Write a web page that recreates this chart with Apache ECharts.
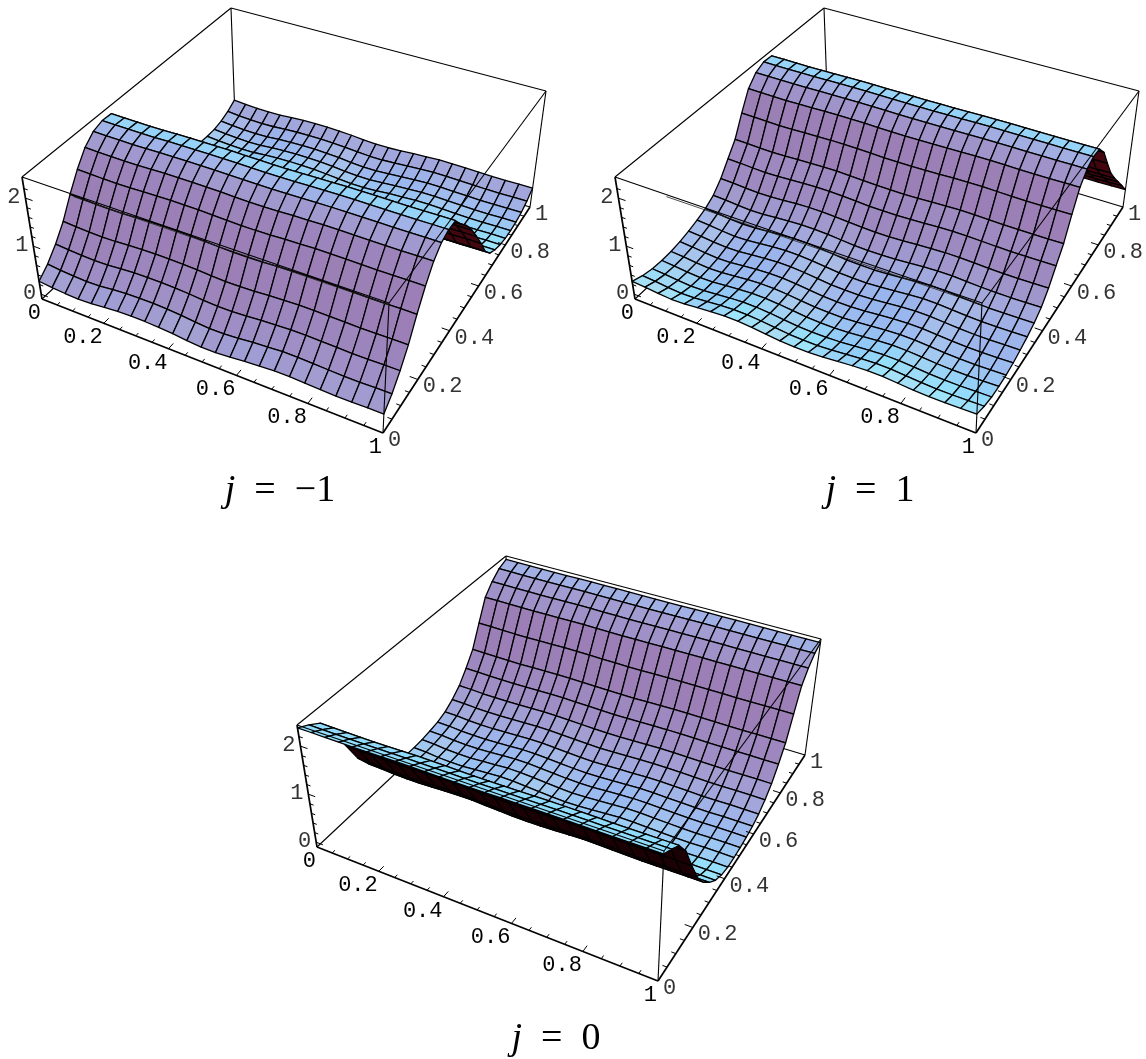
<!DOCTYPE html>
<html>
<head>
<meta charset="utf-8">
<style>html,body{margin:0;padding:0;background:#fff}#c{width:1146px;height:1059px}</style>
<script src="https://cdn.jsdelivr.net/npm/echarts@6/dist/echarts.min.js"></script>
</head>
<body>
<div id="c"></div>
<script>
// ---- values: z along y (25 nodes), x ripple, ripple strength along y
const profileMinus = [.25,.42,.66,.96,1.36,1.72,2.02,2.2,2.27,2.26,2.0,1.78,1.5,1.18,.85,.5,.28,.17,.1,.06,.05,.06,.1,.18,.3];
const profilePlus  = [.25,.18,.14,.13,.14,.17,.22,.28,.36,.48,.68,.95,1.22,1.64,2.03,2.24,2.33,2.32,2.08,1.68,1.3,1.02,.77,.52,.27];
const profileZero  = [2.38,2.26,2.12,1.8,1.3,.85,.55,.34,.18,.09,.05,.05,.06,.09,.13,.2,.32,.48,.72,1.0,1.45,1.9,2.12,2.28,2.36];
const rippleMinus  = [.02,-.01,-.03,-.04,-.03,0,.02,.03,.03,.02,0,-.03,-.05,-.05,-.03,0,.02,.04,.04,.03,.02,.01,.01,.02,.02];
const ripplePlus   = [.02,0,-.03,-.05,-.04,-.01,.02,.04,.04,.02,-.01,-.04,-.05,-.05,-.03,0,.03,.05,.05,.03,.01,0,0,.01,.02];
const rippleZero   = [.02,.01,-.02,-.03,-.03,-.01,.01,.03,.03,.01,-.01,-.03,-.04,-.03,-.01,.01,.03,.03,.02,.01,0,0,.01,.01,.01];
const strengthMinus= [1,1,.8,.6,.5,.4,.3,.2,.2,.2,.2,.3,.5,.6,.7,.8,.8,.8,.8,.8,.8,.8,.8,.7,.7];
const strengthPlus = [.9,.9,.9,.9,.9,.9,.9,.9,.8,.7,.6,.5,.4,.3,.2,.1,.1,.1,.1,.2,.3,.4,.5,.5,.5];
const strengthZero = [.1,.1,.2,.3,.4,.5,.6,.7,.8,.8,.9,.9,.9,.8,.7,.6,.5,.4,.3,.3,.2,.1,.1,.1,.1];
const xTickLabels = ['0','0.2','0.4','0.6','0.8','1'];
const xTickValues = [0,.2,.4,.6,.8,1];
const zTickLabels = ['0','1','2'];
const zTickValues = [0,1,2];
const panelTitles = ['\u2212' + '1', '1', '0'];

// ---- layout of the drawn box
const Z_MIN = -0.1, Z_MAX = 2.44, CELLS = 24;
const floorCorners = [[42,299],[383,433],[530,207],[235,118]];
const topCorners   = [[22,177],[389,303],[546,91],[231,8]];
const panelOffset  = [[0,0],[593,0],[275,548]];
const titleCenter  = [[280,491],[870,491],[556,1039]];
const undersideColor = ['#43070f','#43060f','#1c0104'];
const profiles  = [profileMinus, profilePlus, profileZero];
const ripples   = [rippleMinus, ripplePlus, rippleZero];
const strengths = [strengthMinus, strengthPlus, strengthZero];

function makeH(q){
  const [x0,y0]=q[0],[x1,y1]=q[1],[x2,y2]=q[2],[x3,y3]=q[3];
  const sx=x0-x1+x2-x3, sy=y0-y1+y2-y3, dx1=x1-x2, dx2=x3-x2, dy1=y1-y2, dy2=y3-y2;
  const det=dx1*dy2-dx2*dy1, g=(sx*dy2-dx2*sy)/det, h=(dx1*sy-sx*dy1)/det;
  const a=x1-x0+g*x1, b=x3-x0+h*x3, d=y1-y0+g*y1, e=y3-y0+h*y3;
  return (u,v)=>{const w=g*u+h*v+1;return [(a*u+b*v+x0)/w,(d*u+e*v+y0)/w];};
}
const floorH = makeH(floorCorners), topH = makeH(topCorners);
function project(p,u,v,z){
  const f=(z-Z_MIN)/(Z_MAX-Z_MIN), a=floorH(u,v), b=topH(u,v);
  return [a[0]+(b[0]-a[0])*f+panelOffset[p][0], a[1]+(b[1]-a[1])*f+panelOffset[p][1]];
}
const height=(p,ix,iy)=>profiles[p][iy]+strengths[p][iy]*ripples[p][ix];

// ---- shading: lit colour as a function of slope along y
const ramp=[[-3,[144,220,251]],[-1.8,[160,230,251]],[-.5,[142,220,251]],[0,[156,205,245]],[.5,[158,192,240]],[1,[157,184,238]],[1.5,[160,180,233]],[2.5,[163,170,222]],[4,[161,155,208]],[6,[158,140,195]],[8,[155,127,182]]];
function lit(sy,sx){
  let c=ramp[ramp.length-1][1];
  if(sy<=ramp[0][0]) c=ramp[0][1];
  else for(let i=1;i<ramp.length;i++){ if(sy<=ramp[i][0]){const a=ramp[i-1],b=ramp[i],t=(sy-a[0])/(b[0]-a[0]);c=a[1].map((k,n)=>k+(b[1][n]-k)*t);break;} }
  const amt=Math.min(1,Math.abs(sx))*(sy<2?.6:sy<5?.2:.08), tint=sx>0?[142,182,242]:[182,208,232];
  c=c.map((k,n)=>Math.round(k+(tint[n]-k)*amt));
  return 'rgb('+c.join(',')+')';
}

// ---- item lists
const quadData=[];
for(let p=0;p<3;p++) for(let iy=CELLS-1;iy>=0;iy--) for(let ix=0;ix<CELLS;ix++) quadData.push([p,ix,iy]);
const corner=[[0,0,0],[1,0,0],[1,1,0],[0,1,0],[0,0,1],[1,0,1],[1,1,1],[0,1,1]];
const backEdges=[[4,7],[7,6],[6,2],[7,3],[3,2],[0,3]], frontEdges=[[4,5],[5,6],[5,1]], axisEdges=[[0,4],[0,1],[1,2]];
const listFor=(e,w)=>{const r=[];for(let p=0;p<3;p++)e.forEach(s=>r.push([p,s[0],s[1],w]));return r;};
const cp=(p,k)=>{const c=corner[k];return project(p,c[0],c[1],c[2]?Z_MAX:Z_MIN);};

const tickData=[];
for(let p=0;p<3;p++){
  for(let k=1;k<20;k++){
    const maj=k%4===0?1:0;
    tickData.push([p,0,k/20,maj]); tickData.push([p,1,k/20,maj]);
  }
  for(let k=0;k<12;k++) tickData.push([p,2,k/5,k%5===0?1:0]);
}
const labelData=[];
for(let p=0;p<3;p++){
  xTickLabels.forEach((s,i)=>{labelData.push([p,0,i]);labelData.push([p,1,i]);});
  zTickLabels.forEach((s,i)=>labelData.push([p,2,i]));
}

function edgeItem(api){
  const p=api.value(0),a=api.coord(cp(p,api.value(1))),b=api.coord(cp(p,api.value(2)));
  return {type:'line',silent:true,shape:{x1:a[0],y1:a[1],x2:b[0],y2:b[1]},style:{stroke:'#000',lineWidth:api.value(3),fill:null}};
}
const edgeSeries=(data)=>({type:'custom',coordinateSystem:'cartesian2d',silent:true,clip:false,animation:false,encode:{x:1,y:2},data,renderItem:(q,api)=>edgeItem(api)});

const option={
  backgroundColor:'#fff',animation:false,
  grid:{left:0,right:0,top:0,bottom:0},
  xAxis:{type:'value',min:0,max:1146,show:false},
  yAxis:{type:'value',min:0,max:1059,inverse:true,show:false},
  series:[
    edgeSeries(listFor(backEdges,1.1)),
    {type:'custom',coordinateSystem:'cartesian2d',silent:true,clip:false,animation:false,progressive:0,encode:{x:1,y:2},data:quadData,
     renderItem(q,api){
       const p=api.value(0),ix=api.value(1),iy=api.value(2),n=CELLS;
       const z00=height(p,ix,iy),z10=height(p,ix+1,iy),z11=height(p,ix+1,iy+1),z01=height(p,ix,iy+1);
       const pts=[project(p,ix/n,iy/n,z00),project(p,(ix+1)/n,iy/n,z10),project(p,(ix+1)/n,(iy+1)/n,z11),project(p,ix/n,(iy+1)/n,z01)].map(t=>api.coord(t));
       let area=0;for(let i=0;i<4;i++){const a=pts[i],b=pts[(i+1)%4];area+=a[0]*b[1]-b[0]*a[1];}
       const sy=(z01+z11-z00-z10)/2*n, sx=(z10+z11-z00-z01)/2*n;
       return {type:'polygon',silent:true,shape:{points:pts},style:{fill:area>0?undersideColor[p]:lit(sy,sx),stroke:'#000',lineWidth:1.3,lineJoin:'round'}};
     }},
    edgeSeries(listFor(frontEdges,1.1)),
    {type:'custom',coordinateSystem:'cartesian2d',silent:true,clip:false,animation:false,encode:{x:0,y:0},data:[[0],[1]],
     renderItem(q,api){
       const p=api.value(0),e=cp(p,4),f=cp(p,5),st=[e[0]+(f[0]-e[0])*.14,e[1]+(f[1]-e[1])*.14];
       const a=api.coord([st[0],st[1]+2]),b=api.coord([f[0],f[1]+2]);
       return {type:'line',silent:true,shape:{x1:a[0],y1:a[1],x2:b[0],y2:b[1]},style:{stroke:'#222',lineWidth:.8}};
     }},
    edgeSeries(listFor(axisEdges,1.7)),
    {type:'custom',coordinateSystem:'cartesian2d',silent:true,clip:false,animation:false,encode:{x:1,y:2},data:tickData,
     renderItem(q,api){
       const p=api.value(0),ax=api.value(1),t=api.value(2),L=api.value(3)?.022:.012;
       let a,b;
       if(ax===0){a=project(p,t,0,Z_MIN);b=project(p,t,L,Z_MIN);}
       else if(ax===1){a=project(p,1,t,Z_MIN);b=project(p,1-L,t,Z_MIN);}
       else {a=project(p,0,0,t);b=project(p,L,0,t);}
       a=api.coord(a);b=api.coord(b);
       return {type:'line',silent:true,shape:{x1:a[0],y1:a[1],x2:b[0],y2:b[1]},style:{stroke:'#000',lineWidth:1}};
     }},
    {type:'custom',coordinateSystem:'cartesian2d',silent:true,clip:false,animation:false,encode:{x:1,y:2},data:labelData,
     renderItem(q,api){
       const p=api.value(0),ax=api.value(1),i=api.value(2);
       let a,text,align,dx,dy,fill;
       if(ax===0){a=project(p,xTickValues[i],0,Z_MIN);text=xTickLabels[i];align='right';dx=-1;dy=14;fill='#000';}
       else if(ax===1){a=project(p,1,xTickValues[i],Z_MIN);text=xTickLabels[i];align='left';dx=5;dy=7;fill='#333';}
       else {a=project(p,0,0,zTickValues[i]);text=zTickLabels[i];align='right';dx=-5;dy=-1;fill='#333';}
       const c=api.coord(a);
       return {type:'text',silent:true,x:c[0]+dx,y:c[1]+dy,style:{text,fill,font:'22px "Liberation Mono"',align,verticalAlign:'middle'}};
     }},
    {type:'custom',coordinateSystem:'cartesian2d',silent:true,clip:false,animation:false,encode:{x:0,y:1},
     data:titleCenter.map((c,i)=>[c[0],c[1],i]),
     renderItem(q,api){
       const c=api.coord([api.value(0),api.value(1)]);
       return {type:'text',silent:true,x:c[0],y:c[1],style:{text:'{i|j}{r|  =  '+panelTitles[api.value(2)]+'}',align:'center',verticalAlign:'middle',fill:'#000',
         rich:{i:{font:'italic 38px "Liberation Serif"',fill:'#000'},r:{font:'38px "Liberation Serif"',fill:'#000'}}}};
     }}
  ]
};
const chart=echarts.init(document.getElementById('c'),null,{renderer:'canvas'});
chart.setOption(option);
</script>
</body>
</html>
